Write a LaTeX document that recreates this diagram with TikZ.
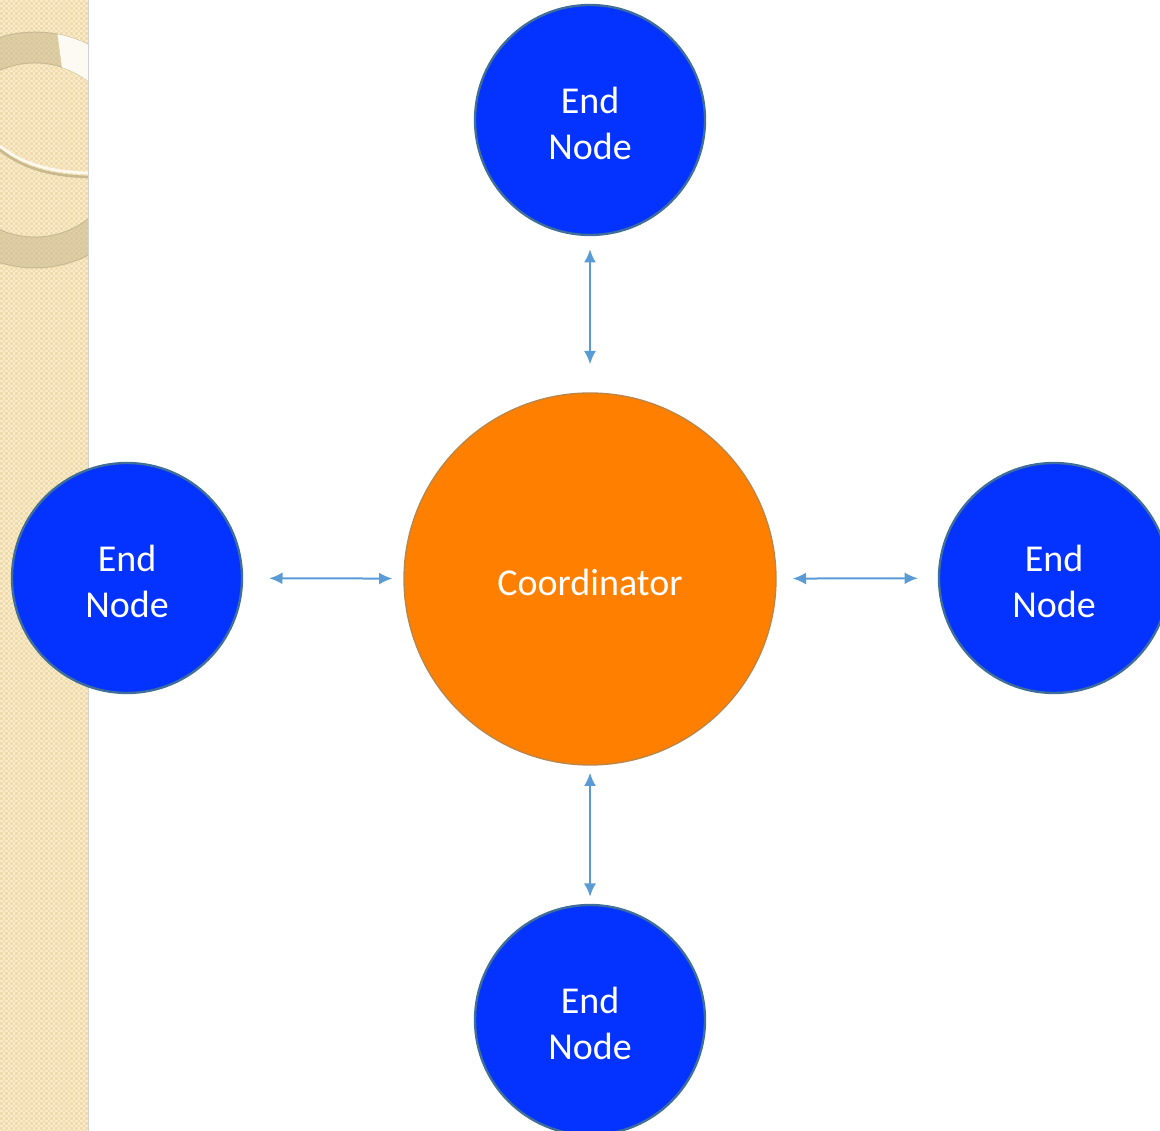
\documentclass[tikz,border=0pt]{standalone}
\usepackage{fontspec}
\setmainfont{Carlito}
\usetikzlibrary{arrows.meta}
\definecolor{nodoblu}{HTML}{0433FF}
\definecolor{bordoblu}{HTML}{3F6E9A}
\definecolor{arancio}{HTML}{FF7F00}
\definecolor{bordoarancio}{HTML}{B8864B}
\definecolor{freccia}{HTML}{5B9BD5}
\definecolor{sabbia}{HTML}{EEDCB0}
\definecolor{sabbiachiara}{HTML}{FAEBC6}
\definecolor{anello}{HTML}{C9B98F}
\tikzset{
  endnode/.style={circle, draw=bordoblu, line width=1.75pt, fill=nodoblu,
    minimum size=172.5pt, inner sep=0pt, text=white, align=center,
    text height=59pt, font=\fontsize{28.5}{34}\selectfont},
  coordnode/.style={circle, draw=bordoarancio, line width=1pt, fill=arancio,
    minimum size=279pt, inner sep=0pt, text=white, text height=25.5pt,
    text depth=0pt, font=\fontsize{28.5}{34}\selectfont},
  link/.style={draw=freccia, line width=1.5pt,
    {Latex[length=10pt,width=9pt]}-{Latex[length=10pt,width=9pt]}}
}
\begin{document}
\begin{tikzpicture}[x=0.75pt,y=0.75pt]
        \useasboundingbox (0,0) rectangle (1160,1131);
        %fascia laterale
        \fill[sabbia] (0,0) rectangle (88,1131);
        \foreach \k [evaluate=\k as \ph using {mod(\k,2)*1.875}] in {0,...,34} {
        \draw[sabbiachiara, line width=1.875pt, dash pattern=on 1.875pt off 1.875pt,
        dash phase=\ph pt] (1.25+2.5*\k,1131) -- (1.25+2.5*\k,0);}
        %anello
        \begin{scope}
        \clip (0,0) rectangle (88,1131);
        \fill[anello, opacity=0.55, even odd rule] (35,981) circle (118) (35,981) circle (87);
        \draw[anello!80!black, opacity=0.4, line width=0.75pt] (35,981) circle (118) (35,981) circle (87);
        \fill[white!85!sabbia] (35,981) ++(79:118) arc[start angle=79,end angle=20,radius=118]
        -- ([shift={(20:87)}]35,981) arc[start angle=20,end angle=72,radius=87] -- cycle;
        \draw[anello, line width=2pt] (0,981) .. controls (25,961) and (55,955) .. (88,954);
        \draw[white!70!sabbiachiara, line width=2pt] (0,985) .. controls (25,965) and (55,959) .. (88,958);
        \end{scope}
        \draw[gray!35, line width=1pt] (88.5,0) -- (88.5,1131);
        %nodi
        \node[coordnode] (coord) at (590,552) {Coordinator};
        \node[endnode] (top) at (590,1011) {End\\Node};
        \node[endnode] (left) at (127,553) {End\\Node};
        \node[endnode] (right) at (1054,553) {End\\Node};
        \node[endnode] (bottom) at (590,111) {End\\Node};
        %frecce
        \draw[link, shorten <=9.75pt, shorten >=21pt] (top) -- (coord);
        \draw[link, shorten <=19.5pt, shorten >=8.25pt] (left) -- (coord);
        \draw[link, shorten <=12pt, shorten >=15pt] (coord) -- (right);
        \draw[link, shorten <=5.25pt, shorten >=5.25pt] (coord) -- (bottom);
\end{tikzpicture}
\end{document}
